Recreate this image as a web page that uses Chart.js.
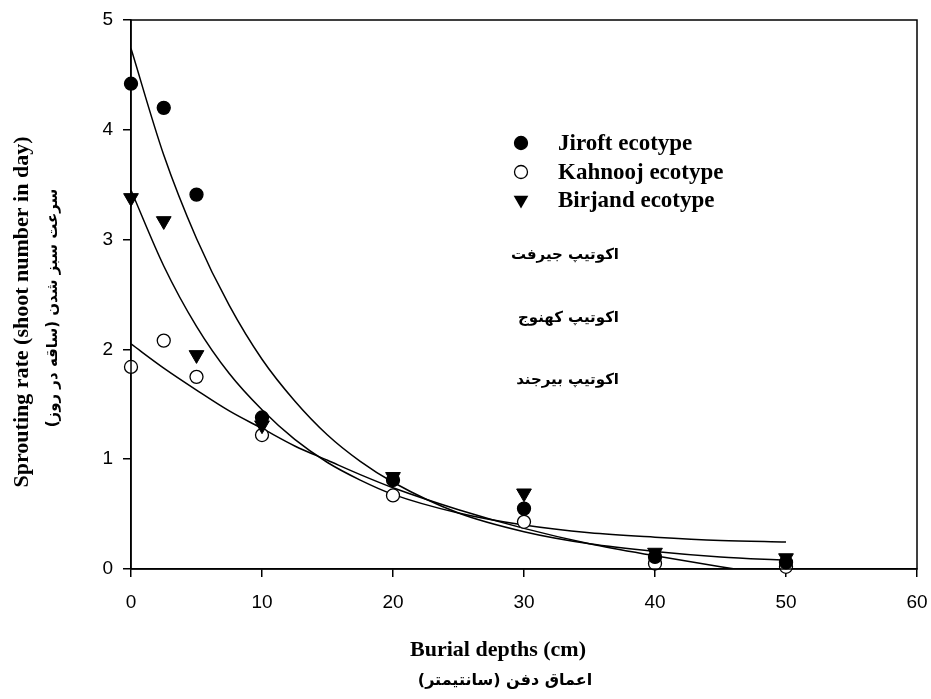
<!DOCTYPE html>
<html>
<head>
<meta charset="utf-8">
<script src="https://cdn.jsdelivr.net/npm/chart.js@4/dist/chart.umd.min.js"></script>
<style>
  html, body { margin: 0; padding: 0; background: #fff; }
  #wrap { width: 931px; height: 699px; position: relative; }
</style>
</head>
<body>
<div id="wrap"><canvas id="chart" width="931" height="699"></canvas></div>
<script>
// --- DATA ---
const depthPoints  = [0, 2.5, 5, 10, 20, 30, 40, 50];
const jiroftRate   = [4.42, 4.20, 3.41, 1.38, 0.81, 0.55, 0.11, 0.06];
const kahnoojRate  = [1.84, 2.08, 1.75, 1.22, 0.67, 0.43, 0.05, 0.02];
const birjandRate  = [3.38, 3.17, 1.95, 1.31, 0.84, 0.69, 0.15, 0.10];

// fitted curves
const curveDepths  = [0, 2.5, 5, 7.5, 10, 12.5, 15, 17.5, 20, 25, 30, 35, 40, 45, 50];
const jiroftFit    = [4.74, 3.77, 3.01, 2.40, 1.91, 1.53, 1.22, 0.98, 0.79, 0.51, 0.34, 0.23, 0.16, 0.11, 0.08];
const birjandFit   = [3.45, 2.76, 2.21, 1.78, 1.45, 1.18, 0.97, 0.81, 0.68, 0.51, 0.40, 0.33, 0.29, 0.26, 0.245];
const kahnoojDepths = [0, 2.5, 5, 7.5, 10, 12.5, 15, 17.5, 20, 25, 30, 35, 40, 45, 46.1];
const kahnoojFit   = [2.05, 1.83, 1.63, 1.44, 1.28, 1.12, 0.99, 0.86, 0.74, 0.54, 0.37, 0.23, 0.12, 0.02, 0];

const xTickValues = [0, 10, 20, 30, 40, 50, 60];
const yTickValues = [0, 1, 2, 3, 4, 5];

const legendNames  = ['Jiroft ecotype', 'Kahnooj ecotype', 'Birjand ecotype'];
const persianNames = ['اکوتیپ جیرفت', 'اکوتیپ کهنوج', 'اکوتیپ بیرجند'];
const xTitle   = 'Burial depths (cm)';
const xTitleFa = 'اعماق دفن (سانتیمتر)';
const yTitle   = 'Sprouting rate (shoot number in day)';
const yTitleFa = 'سرعت سبز شدن (ساقه در روز)';

const toXY = (xs, ys) => xs.map((x, i) => ({ x: x, y: ys[i] }));

// --- helpers ---
function drawMarker(ctx, kind, x, y) {
    ctx.beginPath();
    if (kind === 'tri') {
        const r = 8.5;
        ctx.moveTo(x, y + r);
        ctx.lineTo(x - r * 0.866, y - r * 0.5);
        ctx.lineTo(x + r * 0.866, y - r * 0.5);
        ctx.closePath();
        ctx.fillStyle = '#000';
        ctx.fill();
    } else {
        ctx.arc(x, y, 6.5, 0, Math.PI * 2);
        ctx.fillStyle = kind === 'open' ? '#fff' : '#000';
        ctx.fill();
        ctx.lineWidth = 1.3;
        ctx.strokeStyle = '#000';
        ctx.stroke();
    }
}

// frame, legend, annotations and axis titles
const decorPlugin = {
    id: 'decor',
    afterDraw(chart) {
        const { ctx, chartArea: a } = chart;
        ctx.save();
        ctx.strokeStyle = '#000';
        ctx.lineWidth = 1.5;
        ctx.strokeRect(a.left, a.top, a.right - a.left, a.bottom - a.top);

        // legend
        const kinds = ['fill', 'open', 'tri'];
        const rowY = [143, 172, 200];
        ctx.font = 'bold 23px "Liberation Serif", "Times New Roman", serif';
        ctx.textBaseline = 'middle';
        ctx.textAlign = 'left';
        legendNames.forEach((name, i) => {
            drawMarker(ctx, kinds[i], 521, rowY[i]);
            ctx.fillStyle = '#000';
            ctx.fillText(name, 558, rowY[i] + 1);
        });

        // persian labels
        ctx.font = 'bold 15px "DejaVu Sans", sans-serif';
        ctx.textAlign = 'right';
        const faY = [255, 318, 380];
        persianNames.forEach((name, i) => ctx.fillText(name, 619, faY[i]));

        // x title
        ctx.textAlign = 'center';
        ctx.font = 'bold 22px "Liberation Serif", "Times New Roman", serif';
        ctx.fillText(xTitle, 498, 650);
        ctx.font = 'bold 16px "DejaVu Sans", sans-serif';
        ctx.fillText(xTitleFa, 505, 681);

        // y title
        ctx.save();
        ctx.translate(22, 312);
        ctx.rotate(-Math.PI / 2);
        ctx.font = 'bold 22px "Liberation Serif", "Times New Roman", serif';
        ctx.fillText(yTitle, 0, 0);
        ctx.restore();
        ctx.save();
        ctx.translate(53, 308);
        ctx.rotate(-Math.PI / 2);
        ctx.font = 'bold 15px "DejaVu Sans", sans-serif';
        ctx.fillText(yTitleFa, 0, 0);
        ctx.restore();

        ctx.restore();
    }
};

const curveStyle = {
    showLine: true, pointRadius: 0, borderColor: '#000', borderWidth: 1.5,
    cubicInterpolationMode: 'monotone', order: 2
};
const tickFont = { family: '"Liberation Sans", Arial, sans-serif', size: 19 };

new Chart(document.getElementById('chart').getContext('2d'), {
    type: 'scatter',
    data: {
        datasets: [
            { label: 'Jiroft', data: toXY(depthPoints, jiroftRate), pointStyle: 'circle', pointRadius: 6.5,
              backgroundColor: '#000', borderColor: '#000', borderWidth: 1.3, clip: false, order: 0 },
            { label: 'Kahnooj', data: toXY(depthPoints, kahnoojRate), pointStyle: 'circle', pointRadius: 6.5,
              backgroundColor: '#fff', borderColor: '#000', borderWidth: 1.3, clip: false, order: 1 },
            { label: 'Birjand', data: toXY(depthPoints, birjandRate), pointStyle: 'triangle', rotation: 180,
              pointRadius: 8.5, backgroundColor: '#000', borderColor: '#000', borderWidth: 1, clip: false, order: 0 },
            { label: 'Jiroft fit', data: toXY(curveDepths, jiroftFit), ...curveStyle },
            { label: 'Kahnooj fit', data: toXY(kahnoojDepths, kahnoojFit), ...curveStyle },
            { label: 'Birjand fit', data: toXY(curveDepths, birjandFit), ...curveStyle }
        ]
    },
    options: {
        responsive: false,
        animation: false,
        layout: { padding: { left: 0, right: 14, top: 20, bottom: 0 } },
        plugins: { legend: { display: false }, tooltip: { enabled: false } },
        scales: {
            x: {
                type: 'linear', min: 0, max: 60,
                afterBuildTicks: s => { s.ticks = xTickValues.map(v => ({ value: v })); },
                afterFit: s => { s.height = 130; s.paddingLeft = 0; s.paddingRight = 0; },
                border: { display: true, color: '#000', width: 1.5 },
                grid: { drawOnChartArea: false, drawTicks: true, tickLength: 8, color: '#000', lineWidth: 1.5 },
                ticks: { color: '#000', font: tickFont, padding: 14, maxRotation: 0 }
            },
            y: {
                type: 'linear', min: 0, max: 5,
                afterBuildTicks: s => { s.ticks = yTickValues.map(v => ({ value: v })); },
                afterFit: s => { s.width = 131; s.paddingTop = 0; s.paddingBottom = 0; },
                border: { display: true, color: '#000', width: 1.5 },
                grid: { drawOnChartArea: false, drawTicks: true, tickLength: 8, color: '#000', lineWidth: 1.5 },
                ticks: { color: '#000', font: tickFont, padding: 10 }
            }
        }
    },
    plugins: [decorPlugin]
});
</script>
</body>
</html>
